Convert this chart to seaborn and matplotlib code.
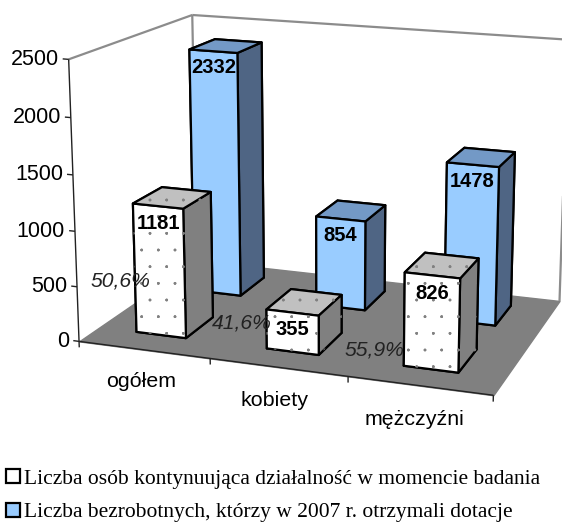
import numpy as np
import seaborn as sns
import matplotlib
matplotlib.use('Agg')
import matplotlib.pyplot as plt
import matplotlib.hatch as mhatch
from matplotlib.patches import Patch
from mpl_toolkits.mplot3d import proj3d
from mpl_toolkits.mplot3d.art3d import Poly3DCollection, Line3DCollection

categories = ['ogółem', 'kobiety', 'mężczyźni']
continuing = [1181, 355, 826]
unemployed = [2332, 854, 1478]
percents = ['50,6%', '41,6%', '55,9%']
z_ticks = [0, 500, 1000, 1500, 2000, 2500]
legend_labels = ['Liczba osób kontynuująca działalność w momencie badania',
                 'Liczba bezrobotnych, którzy w 2007 r. otrzymali dotacje']

W, H = 562, 523
Z_MAX = 2500
N = len(categories)
BAR_X = 0.292
BAR_W = 0.385
BAR_Y = [0.155, 0.65]
BAR_D = 0.235

sns.set_theme(style='white')
plt.rcParams['hatch.linewidth'] = 0.5
mhatch.SmallFilledCircles.size = 0.06


def camera():
    # corners of the chart box (x, depth, z) and where they sit in the picture
    box = [(0, 0, 0), (N, 0, 0), (N, 1, 0), (0, 1, 0), (0, 0, 1), (0, 1, 1), (N, 1, 1)]
    px = [(80, 341), (493, 396), (560, 300), (196, 261), (68, 59), (193, 15), (568, 40)]
    rows = []
    for (a, b, c), (u, v) in zip(box, px):
        rows.append([a, b, c, 1, 0, 0, 0, 0, -u * a, -u * b, -u * c, -u])
        rows.append([0, 0, 0, 0, a, b, c, 1, -v * a, -v * b, -v * c, -v])
    p = np.linalg.svd(np.array(rows, dtype=float))[2][-1].reshape(3, 4)
    p = p / p[2, 3]
    p[:, 2] = p[:, 2] / Z_MAX
    # third row only orders the faces, bigger is further away
    return np.array([p[0], p[1], [-0.3, 1, -0.0002, 0], p[2]])


fig = plt.figure(figsize=(W / 100, H / 100), dpi=100, facecolor='white')
ax = fig.add_axes([0, 0, 1, 1], projection='3d', computed_zorder=False)
ax.set_axis_off()
M = camera()
ax.get_proj = lambda: M
ax.apply_aspect = lambda position=None: None
ax.viewLim.intervalx = (0, W)
ax.viewLim.intervaly = (H, 0)


def put_text(x, y, z, s, dx=0, dy=0, **kw):
    u, v, _ = proj3d.proj_transform(x, y, z, M)
    fig.text((float(u) + dx) / W, 1 - (float(v) + dy) / H, s, color=kw.pop('color', 'black'),
             family=kw.pop('family', 'Liberation Sans'), zorder=30, **kw)


# floor
floor = Poly3DCollection([[(0, 0, 0), (N, 0, 0), (N, 1, 0), (0, 1, 0)]],
                         facecolors='#808080', edgecolors='#808080', zorder=1)
ax.add_collection3d(floor)

# walls
wall_lines = [[(0, 0, Z_MAX), (0, 1, Z_MAX)],
              [(0, 1, Z_MAX), (N, 1, Z_MAX)],
              [(0, 1, 0), (0, 1, Z_MAX)],
              [(N, 1, 0), (N, 1, Z_MAX)]]
ax.add_collection3d(Line3DCollection(wall_lines, colors='#8c8c8c', linewidths=1.6, zorder=1.5))

# axes and ticks
axis_lines = [[(0, 0, 0), (0, 0, Z_MAX)], [(0, 0, 0), (N, 0, 0)]]
axis_lines += [[(-0.045, 0, t), (0, 0, t)] for t in z_ticks]
axis_lines += [[(i, 0, -55), (i, 0, 0)] for i in range(N + 1)]
ax.add_collection3d(Line3DCollection(axis_lines, colors='#222222', linewidths=1, zorder=2))

for t in z_ticks:
    put_text(0, 0, t, str(t), dx=-10, ha='right', va='center', fontsize=15.5)
for i, name in enumerate(categories):
    put_text(i + 0.47, 0, -300, name, ha='center', va='center', fontsize=15.4)

# faces: -Z, +Z, -Y, +Y, -X, +X
blue_faces = ['#99CCFF', '#7399C6', '#99CCFF', '#4F6584', '#4F6584', '#4F6584']
white_faces = ['white', '#C0C0C0', 'white', '#808080', '#808080', '#808080']

z = 3
for i, v in enumerate(unemployed):
    ax.bar3d(i + BAR_X, BAR_Y[1], 0, BAR_W, BAR_D, v, color=blue_faces, shade=False,
             edgecolor='black', linewidth=1.6, zorder=z)
    z += 1
for i, v in enumerate(continuing):
    ax.bar3d(i + BAR_X, BAR_Y[0], 0, BAR_W, BAR_D, v, color=white_faces, shade=False,
             edgecolor='black', linewidth=1.6, zorder=z)
    ax.bar3d(i + BAR_X, BAR_Y[0], 0, BAR_W, BAR_D, v, color=[(0, 0, 0, 0)], shade=False,
             edgecolor='#808080', linewidth=0, hatch='.', zorder=z + 0.5)
    z += 1

# value labels on the front faces
for series, y in ((unemployed, BAR_Y[1]), (continuing, BAR_Y[0])):
    for i, v in enumerate(series):
        put_text(i + BAR_X + BAR_W / 2, y, v - 155, str(v), ha='center', va='center',
                 fontsize=14.5, fontweight='bold')

# percent labels stand next to the bars
for (px, py), s in zip([(120, 281), (242, 323), (374, 350)], percents):
    fig.text(px / W, 1 - py / H, s, ha='center', va='center', style='italic',
             color='#222222', fontsize=15.2, family='Liberation Sans', zorder=31)

handles = [Patch(facecolor='white', edgecolor='black', linewidth=1.6),
           Patch(facecolor='#99CCFF', edgecolor='black', linewidth=1.6)]
fig.legend(handles, legend_labels, loc='lower left', bbox_to_anchor=(0.003, -0.007),
           frameon=False, ncol=1, borderpad=0.2, borderaxespad=0, handlelength=0.65,
           handleheight=0.65, handletextpad=0.2, labelspacing=0.64,
           prop={'family': 'Liberation Serif', 'size': 15.5}, labelcolor='black')

fig.savefig('out.png', dpi=100)
